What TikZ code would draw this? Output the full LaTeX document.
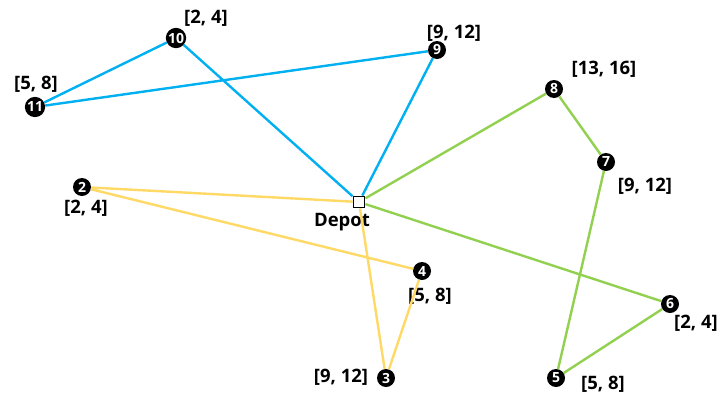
\documentclass[tikz,border=0pt]{standalone}
\usepackage{fontspec}
\setmainfont{Open Sans}
\definecolor{routeblue}{RGB}{0,176,240}
\definecolor{routegreen}{RGB}{146,208,80}
\definecolor{routeyellow}{RGB}{255,217,102}
\begin{document}
\begin{tikzpicture}[x=1pt,y=-1pt,
  cust/.style={circle,fill=black,text=white,inner sep=0.5pt,minimum size=18pt,
    font=\fontsize{14}{14}\selectfont\bfseries},
  depot/.style={rectangle,draw=black,fill=white,line width=1.8pt,minimum size=11pt,inner sep=0pt},
  lbl/.style={font=\fontsize{18.5}{18.5}\selectfont\bfseries},
  route/.style={line width=2.4pt}]
  \useasboundingbox (0,0) rectangle (721,394);
  \node[depot] (depot) at (359,202) {};
  \node[lbl] (depotlbl) at (342,222) {Depot};
  \node[cust] (c2) at (82,187) {2};
  \node[cust] (c3) at (386,378) {3};
  \node[cust] (c4) at (422,271) {4};
  \node[cust] (c5) at (556,378) {5};
  \node[cust] (c6) at (670,304) {6};
  \node[cust] (c7) at (606,162) {7};
  \node[cust] (c8) at (554,89) {8};
  \node[cust] (c9) at (437,50) {9};
  \node[cust] (c10) at (176,38) {10};
  \node[cust] (c11) at (35,107) {11};
  % time windows
  \node[lbl] (w2) at (86,208) {[2, 4]};
  \node[lbl] (w3) at (341,377) {[9, 12]};
  \node[lbl] (w4) at (430,296) {[5, 8]};
  \node[lbl] (w5) at (603,384) {[5, 8]};
  \node[lbl] (w6) at (696,323) {[2, 4]};
  \node[lbl] (w7) at (645,186) {[9, 12]};
  \node[lbl] (w8) at (604,69) {[13, 16]};
  \node[lbl] (w9) at (454,33) {[9, 12]};
  \node[lbl] (w10) at (206,18) {[2, 4]};
  \node[lbl] (w11) at (36,84) {[5, 8]};
  % routes
  \draw[route,routeblue] (depot) -- (c10) -- (c11) -- (c9) -- (depot);
  \draw[route,routegreen] (depot) -- (c8) -- (c7) -- (c5) -- (c6) -- (depot);
  \draw[route,routeyellow] (depot) -- (c2) -- (c4) -- (c3) -- (depot);
\end{tikzpicture}
\end{document}
